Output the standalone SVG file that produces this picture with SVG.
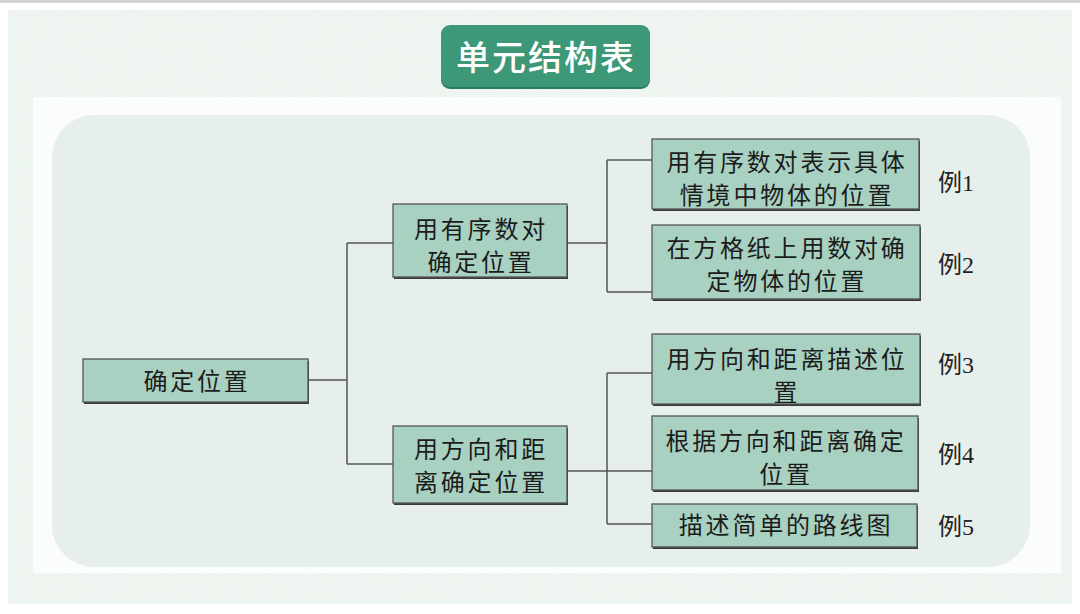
<svg xmlns="http://www.w3.org/2000/svg" width="1080" height="614" viewBox="0 0 1080 614">
  <defs>
    <filter id="paper" x="0" y="0" width="100%" height="100%">
      <feTurbulence type="fractalNoise" baseFrequency="0.035" numOctaves="3" seed="4" result="n"/>
      <feColorMatrix in="n" type="matrix" values="0 0 0 0 0.85  0 0 0 0 0.92  0 0 0 0 0.87  0 0 0 0.9 -0.25" result="c"/>
      <feComposite in="c" in2="SourceGraphic" operator="in"/>
    </filter>
    <style>
      .node rect.box { fill: #a9d1c1; stroke: #555; stroke-width: 1.3; }
      .node rect.sh { fill: #3a3a3a; }
      .t { font-family: "Noto Sans CJK SC", "Noto Sans CJK JP", sans-serif; font-size: 24px; fill: #1c1c1c; text-anchor: middle; letter-spacing: 2.8px; }
      .ex { font-family: "Liberation Serif", "Noto Sans CJK SC", serif; font-size: 24px; fill: #222; }
      #connectors path { fill: none; stroke: #555; stroke-width: 1.5; }
    </style>
  </defs>

  <!-- page background -->
  <rect x="0" y="0" width="1080" height="614" fill="#ffffff"/>
  <rect x="0" y="0" width="1080" height="3" fill="#d4d4d4"/>
  <rect x="8" y="10" width="1064" height="594" fill="#eef5f0"/>
  <rect x="8" y="10" width="1064" height="594" fill="#eef5f0" filter="url(#paper)" opacity="0.7"/>

  <!-- title -->
  <g id="title">
    <rect x="441" y="27" width="209" height="62" rx="9" fill="#2c7a5f"/>
    <rect x="441" y="25" width="209" height="62" rx="9" fill="#3d9878"/>
    <text x="546" y="70" font-family="Noto Sans CJK SC, sans-serif" font-size="34" font-weight="500" fill="#ffffff" text-anchor="middle" letter-spacing="2">单元结构表</text>
  </g>

  <!-- panels -->
  <rect x="33" y="97" width="1028" height="476" fill="#fbfdfc"/>
  <rect x="52" y="115" width="978" height="452" rx="42" fill="#e7efed"/>

  <!-- connectors -->
  <g id="connectors">
    <path d="M308 380 H347 M347 243 V464 M347 243 H393 M347 464 H393"/>
    <path d="M567 243 H607 M607 160 V292 M607 160 H652 M607 292 H652"/>
    <path d="M567 471 H652 M607 373 V524 M607 373 H652 M607 524 H652"/>
  </g>

  <!-- nodes -->
  <g id="n-root" class="node">
    <rect class="sh" x="84" y="361" width="225" height="43"/>
    <rect class="box" x="83" y="359" width="225" height="43"/>
    <text class="t" x="197" y="390">确定位置</text>
  </g>

  <g id="n-a" class="node">
    <rect class="sh" x="394" y="206" width="174" height="73"/>
    <rect class="box" x="393" y="204" width="174" height="73"/>
    <text class="t" x="481" y="238">用有序数对</text>
    <text class="t" x="481" y="271">确定位置</text>
  </g>

  <g id="n-b" class="node">
    <rect class="sh" x="394" y="428" width="174" height="77"/>
    <rect class="box" x="393" y="426" width="174" height="77"/>
    <text class="t" x="481" y="458">用方向和距</text>
    <text class="t" x="481" y="491">离确定位置</text>
  </g>

  <g id="n-a1" class="node">
    <rect class="sh" x="653" y="141" width="267" height="70"/>
    <rect class="box" x="652" y="139" width="267" height="70"/>
    <text class="t" x="787" y="171">用有序数对表示具体</text>
    <text class="t" x="787" y="204">情境中物体的位置</text>
  </g>

  <g id="n-a2" class="node">
    <rect class="sh" x="653" y="227" width="268" height="74"/>
    <rect class="box" x="652" y="225" width="268" height="74"/>
    <text class="t" x="787" y="257">在方格纸上用数对确</text>
    <text class="t" x="787" y="290">定物体的位置</text>
  </g>

  <g id="n-b1" class="node">
    <rect class="sh" x="653" y="336" width="268" height="70"/>
    <rect class="box" x="652" y="334" width="268" height="70"/>
    <text class="t" x="787" y="368">用方向和距离描述位</text>
    <text class="t" x="787" y="401">置</text>
  </g>

  <g id="n-b2" class="node">
    <rect class="sh" x="653" y="418" width="266" height="74"/>
    <rect class="box" x="652" y="416" width="266" height="74"/>
    <text class="t" x="786" y="450">根据方向和距离确定</text>
    <text class="t" x="786" y="483">位置</text>
  </g>

  <g id="n-b3" class="node">
    <rect class="sh" x="653" y="506" width="265" height="43"/>
    <rect class="box" x="652" y="504" width="265" height="43"/>
    <text class="t" x="786" y="534">描述简单的路线图</text>
  </g>

  <!-- example labels -->
  <g id="examples">
    <text class="ex" x="938" y="191">例1</text>
    <text class="ex" x="938" y="273">例2</text>
    <text class="ex" x="938" y="373">例3</text>
    <text class="ex" x="938" y="463">例4</text>
    <text class="ex" x="938" y="535">例5</text>
  </g>
</svg>
